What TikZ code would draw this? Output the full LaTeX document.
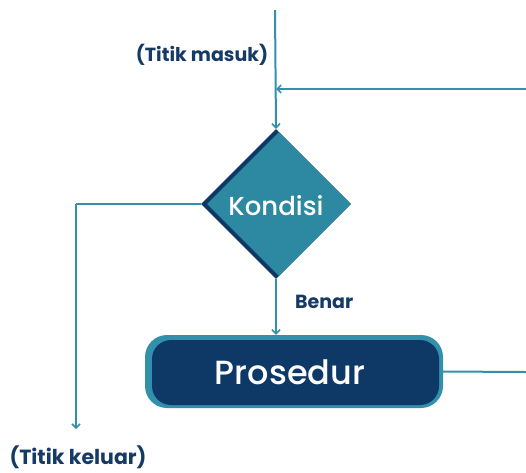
\documentclass[tikz,border=0pt]{standalone}
\usepackage{fontspec}
\setmainfont{Poppins}
\newfontfamily\popmed{Poppins Medium}
\usetikzlibrary{arrows.meta,shapes.geometric}
\definecolor{teal1}{HTML}{3390AB}
\definecolor{tealfill}{HTML}{2D89A2}
\definecolor{navy}{HTML}{0E3866}
\definecolor{navytext}{HTML}{153A66}
\begin{document}
\begin{tikzpicture}[x=1pt,y=-1pt,
  conn/.style={draw=teal1,line width=2pt},
  arr/.style={conn,-{Straight Barb[length=4pt,width=8pt,line width=1.6pt]}},
  lbl/.style={text=navytext,font=\bfseries\fontsize{19}{22}\selectfont,inner sep=0pt},
  dia/.style={diamond,inner sep=0pt,draw=none},
  box/.style={rectangle,inner sep=0pt,draw=none}]
\useasboundingbox (0,0) rectangle (526,472);
% diamond
\node[dia,fill=navy,minimum width=150pt,minimum height=150pt] (dback) at (276,204) {};
\node[dia,fill=tealfill,minimum width=144pt,minimum height=144pt] (cond) at (279,204) {};
\node[text=white,font=\popmed\fontsize{26}{30}\selectfont,inner sep=0pt] (condt) at (276,206) {Kondisi};
% procedure
\node[box,fill=teal1,minimum width=298pt,minimum height=73pt,rounded corners=22pt] (pback) at (294,371.5) {};
\node[box,fill=navy,minimum width=287pt,minimum height=65pt,rounded corners=19pt] (proc) at (295.5,372.5) {};
\node[text=white,font=\popmed\fontsize{33.5}{38}\selectfont,inner sep=0pt] (proct) at (290,372) {Prosedur};
% coordinates
\coordinate (top) at (275,10);
\coordinate (rin) at (526,89);
\coordinate (joinin) at (276,89);
\coordinate (exitc) at (76,204);
\coordinate (exitend) at (76,429);
\coordinate (rout) at (526,372);
% connectors
\draw[arr] (top) -- (dback.north);
\draw[arr] (rin) -- (joinin);
\draw[conn] (dback.west) -- (exitc);
\draw[arr] (exitc) -- (exitend);
\draw[arr] (dback.south) -- (pback.north -| dback.south);
\draw[conn] (pback.east) -- (rout);
% labels
\node[lbl] (tm) at (202,55) {(Titik masuk)};
\node[lbl,font=\bfseries\fontsize{20.5}{22}\selectfont] (tk) at (78,457.5) {(Titik keluar)};
\node[lbl,anchor=west] (bn) at (295,302) {Benar};
\end{tikzpicture}
\end{document}
